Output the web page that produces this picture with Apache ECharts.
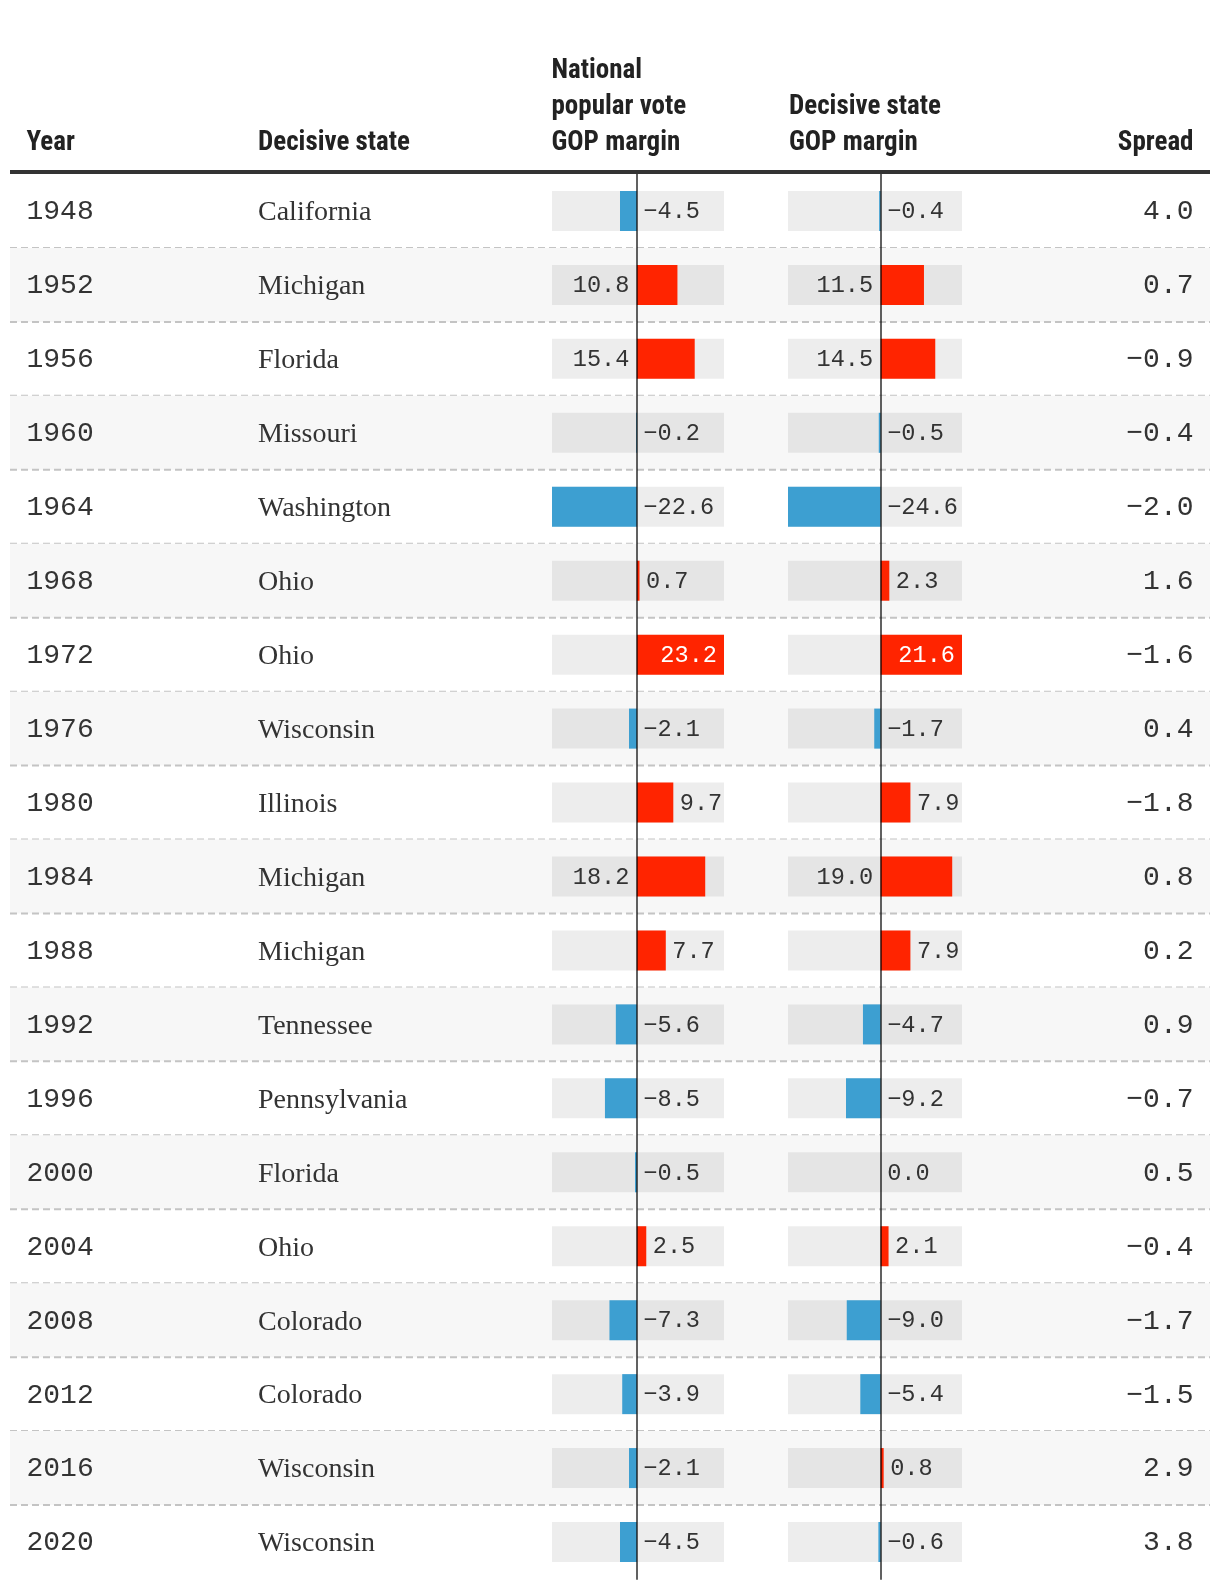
<!DOCTYPE html>
<html>
<head>
<meta charset="utf-8">
<script src="https://cdn.jsdelivr.net/npm/echarts@6/dist/echarts.min.js"></script>
<style>
  html, body { margin: 0; padding: 0; background: #fff; }
  #chart { width: 1220px; height: 1588px; }
</style>
</head>
<body>
<div id="chart"></div>
<script>
// ---- data ----
const years = ['1948','1952','1956','1960','1964','1968','1972','1976','1980','1984','1988','1992','1996','2000','2004','2008','2012','2016','2020'];
const states = ['California','Michigan','Florida','Missouri','Washington','Ohio','Ohio','Wisconsin','Illinois','Michigan','Michigan','Tennessee','Pennsylvania','Florida','Ohio','Colorado','Colorado','Wisconsin','Wisconsin'];
const nationalMargin = [-4.5, 10.8, 15.4, -0.2, -22.6, 0.7, 23.2, -2.1, 9.7, 18.2, 7.7, -5.6, -8.5, -0.5, 2.5, -7.3, -3.9, -2.1, -4.5];
const stateMargin = [-0.4, 11.5, 14.5, -0.5, -24.6, 2.3, 21.6, -1.7, 7.9, 19.0, 7.9, -4.7, -9.2, 0.0, 2.1, -9.0, -5.4, 0.8, -0.6];
const spread = [4.0, 0.7, -0.9, -0.4, -2.0, 1.6, -1.6, 0.4, -1.8, 0.8, 0.2, 0.9, -0.7, 0.5, -0.4, -1.7, -1.5, 2.9, 3.8];
const headerYear = 'Year';
const headerState = 'Decisive state';
const headerNational = ['National', 'popular vote', 'GOP margin'];
const headerDecisive = ['Decisive state', 'GOP margin'];
const headerSpread = 'Spread';

// ---- style ----
const MONO = '"Liberation Mono", "DejaVu Sans Mono", monospace';
const SERIF = '"Liberation Serif", "DejaVu Serif", serif';
const HEAD = '"Liberation Sans Narrow", "Roboto Condensed", "DejaVu Sans Condensed", Roboto, sans-serif';
const TXT = '#333333';
const BLUE = '#3d9fd1';
const RED = '#ff2400';
const LABEL_FONT = '23.6px ' + MONO;
const ROW_FONT_MONO = '28px ' + MONO;
const ROW_FONT_SERIF = '28px ' + SERIF;

const measureCtx = document.createElement('canvas').getContext('2d');
function textWidth(t, font) { measureCtx.font = font; return measureCtx.measureText(t).width; }
function fmt(v) { return (v < 0 ? '\u2212' : '') + Math.abs(v).toFixed(1); }

const GRID_TOP = 174, GRID_H = 1405;

function tableRender(params, api) {
  const idx = api.value(0);
  const c = api.coord([0, idx]);
  const bandH = api.size([0, 1])[1];
  const cs = params.coordSys;
  const left = cs.x, width = cs.width;
  const top = c[1] - bandH / 2;
  const children = [];
  if (idx % 2 === 1) {
    children.push({ type: 'rect', shape: { x: left, y: top, width: width, height: bandH }, style: { fill: '#f7f7f7' } });
  }
  if (idx < years.length - 1) {
    children.push({ type: 'line', shape: { x1: left, y1: top + bandH, x2: left + width, y2: top + bandH },
      style: { stroke: '#c4c4c4', lineWidth: 2, lineDash: [7, 4] } });
  }
  children.push({ type: 'text', x: left + 16.5, y: c[1] + 1, style: { text: years[idx], font: ROW_FONT_MONO, fill: TXT, align: 'left', verticalAlign: 'middle' } });
  children.push({ type: 'text', x: left + 248, y: c[1] + 2, style: { text: states[idx], font: ROW_FONT_SERIF, fill: TXT, align: 'left', verticalAlign: 'middle' } });
  children.push({ type: 'text', x: left + width - 16.5, y: c[1] + 1, style: { text: fmt(spread[idx]), font: ROW_FONT_MONO, fill: TXT, align: 'right', verticalAlign: 'middle' } });
  return { type: 'group', children: children };
}

function barRender(values) {
  const vmin = Math.min(...values), vmax = Math.max(...values);
  return function (params, api) {
    const idx = api.value(0);
    const v = api.value(1);
    const p0 = api.coord([0, idx]);
    const p1 = api.coord([v, idx]);
    const bandH = api.size([0, 1])[1];
    const h = bandH * 0.541;
    const cy = p0[1];
    const bgL = api.coord([vmin, idx])[0];
    const bgR = api.coord([vmax, idx])[0];
    const children = [];
    children.push({ type: 'rect', shape: { x: bgL, y: cy - h / 2, width: bgR - bgL, height: h }, style: { fill: 'rgba(0,0,0,0.07)' } });
    if (v !== 0) {
      const x = Math.min(p0[0], p1[0]);
      children.push({ type: 'rect', shape: { x: x, y: cy - h / 2, width: Math.abs(p1[0] - p0[0]), height: h }, style: { fill: v < 0 ? BLUE : RED } });
    }
    const t = fmt(v);
    const tw = textWidth(t, LABEL_FONT);
    let lx, align = 'left', fill = TXT;
    if (v <= 0) { lx = p0[0] + 6.5; }
    else if (p1[0] + 6.5 + tw <= bgR) { lx = p1[0] + 6.5; }
    else if (v === vmax) { lx = bgR - 7; align = 'right'; fill = '#ffffff'; }
    else { lx = p0[0] - 7.5; align = 'right'; }
    children.push({ type: 'text', x: lx, y: cy + 1, style: { text: t, font: LABEL_FONT, fill: fill, align: align, verticalAlign: 'middle' } });
    return { type: 'group', children: children };
  };
}

function hText(t, x, y, align) {
  return { type: 'text', x: x, y: y, z: 10, style: { text: t, font: 'bold 27px ' + HEAD, fill: '#222222', align: align || 'left', verticalAlign: 'middle' } };
}

const catAxis = (gi, showLine) => ({
  type: 'category', gridIndex: gi, data: years, inverse: true, z: 5,
  axisLabel: { show: false }, axisTick: { show: false }, splitLine: { show: false },
  axisLine: { show: showLine, onZero: true, lineStyle: { color: 'rgba(0,0,0,0.62)', width: 2 } }
});

const option = {
  animation: false,
  backgroundColor: '#ffffff',
  grid: [
    { left: 10, top: GRID_TOP, width: 1200, height: GRID_H },
    { left: 552, top: GRID_TOP, width: 172, height: GRID_H },
    { left: 788, top: GRID_TOP, width: 174, height: GRID_H }
  ],
  xAxis: [
    { type: 'value', gridIndex: 0, min: 0, max: 1, show: false },
    { type: 'value', gridIndex: 1, min: Math.min(...nationalMargin), max: Math.max(...nationalMargin),
      axisLabel: { show: false }, axisTick: { show: false }, axisLine: { show: false }, splitLine: { show: false } },
    { type: 'value', gridIndex: 2, min: Math.min(...stateMargin), max: Math.max(...stateMargin),
      axisLabel: { show: false }, axisTick: { show: false }, axisLine: { show: false }, splitLine: { show: false } }
  ],
  yAxis: [ catAxis(0, false), catAxis(1, true), catAxis(2, true) ],
  series: [
    { type: 'custom', xAxisIndex: 0, yAxisIndex: 0, z: 1, renderItem: tableRender,
      data: years.map((y, i) => [i]), encode: { y: 0 } },
    { type: 'custom', xAxisIndex: 1, yAxisIndex: 1, z: 2, renderItem: barRender(nationalMargin),
      data: nationalMargin.map((v, i) => [i, v]), encode: { x: 1, y: 0 } },
    { type: 'custom', xAxisIndex: 2, yAxisIndex: 2, z: 2, renderItem: barRender(stateMargin),
      data: stateMargin.map((v, i) => [i, v]), encode: { x: 1, y: 0 } }
  ],
  graphic: [
    { type: 'rect', shape: { x: 10, y: 170, width: 1200, height: 4 }, style: { fill: '#333333' }, z: 10 },
    hText(headerYear, 26.5, 143),
    hText(headerState, 258, 143),
    hText(headerNational[0], 551.5, 71),
    hText(headerNational[1], 551.5, 107),
    hText(headerNational[2], 551.5, 143),
    hText(headerDecisive[0], 789, 107),
    hText(headerDecisive[1], 789, 143),
    hText(headerSpread, 1193.5, 143, 'right')
  ]
};

const chart = echarts.init(document.getElementById('chart'), null, { renderer: 'canvas' });
chart.setOption(option);
</script>
</body>
</html>
